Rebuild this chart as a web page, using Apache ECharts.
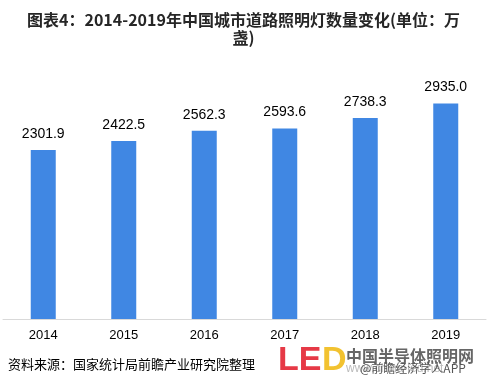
<!DOCTYPE html>
<html><head><meta charset="utf-8">
<script src="https://cdn.jsdelivr.net/npm/echarts@6/dist/echarts.min.js"></script>
<style>html,body{margin:0;padding:0;background:#fff}#c{width:487px;height:387px}</style>
</head><body><div id="c"></div>
<script>
const categories = ['2014','2015','2016','2017','2018','2019'];
const values = [2301.9, 2422.5, 2562.3, 2593.6, 2738.3, 2935.0];
const titleText = '图表4：2014-2019年中国城市道路照明灯数量变化(单位：万\n盏)';
const sourceText = '资料来源：国家统计局前瞻产业研究院整理';

const chart = echarts.init(document.getElementById('c'));
chart.setOption({
  animation: false,
  backgroundColor: '#fff',
  title: {
    text: titleText, left: 'center', top: 6,
    textStyle: {fontFamily: 'Noto Sans CJK SC', fontWeight: 'bold', fontSize: 16, color: '#262626', lineHeight: 18}
  },
  grid: {left: 3, right: 1, top: 62, bottom: 68, containLabel: false},
  xAxis: {
    type: 'category', data: categories,
    axisLine: {lineStyle: {color: '#d9d9d9', width: 1}},
    axisTick: {show: false},
    axisLabel: {color: '#000', fontSize: 13, margin: 10, fontFamily: 'Liberation Sans'}
  },
  yAxis: {type: 'value', min: 0, max: 3500, show: false, splitLine: {show: false}},
  series: [{
    type: 'bar', data: values, barWidth: 25,
    itemStyle: {color: '#4087e3'},
    label: {show: true, position: 'top', distance: 9, color: '#000', fontSize: 14,
      fontFamily: 'Liberation Sans', formatter: p => p.value.toFixed(1)}
  }],
  graphic: [
    {type: 'text', left: 8, top: 358, style: {text: sourceText, fontSize: 13, fill: '#000', fontFamily: 'Noto Sans CJK SC'}},
    {type: 'text', left: 278, top: 344, style: {text: 'LE', fontSize: 34, fontWeight: 'bold', fill: '#e63946', fontFamily: 'Liberation Sans'}},
    {type: 'text', left: 322, top: 344, style: {text: 'D', fontSize: 34, fontWeight: 'bold', fill: '#f2c230', fontFamily: 'Liberation Sans'}},
    {type: 'text', left: 346, top: 348, style: {text: '中国半导体照明网', fontSize: 16, fontWeight: 'bold', fill: '#666', fontFamily: 'Noto Sans CJK SC'}},
    {type: 'text', left: 346, top: 363, style: {text: 'www.china-led.net', fontSize: 12, fill: '#bbb', fontFamily: 'Liberation Sans'}},
    {type: 'text', left: 360, top: 362, style: {text: '@前瞻经济学人APP', fontSize: 12, fill: '#555', fontFamily: 'Noto Sans CJK SC'}}
  ]
});
</script></body></html>
